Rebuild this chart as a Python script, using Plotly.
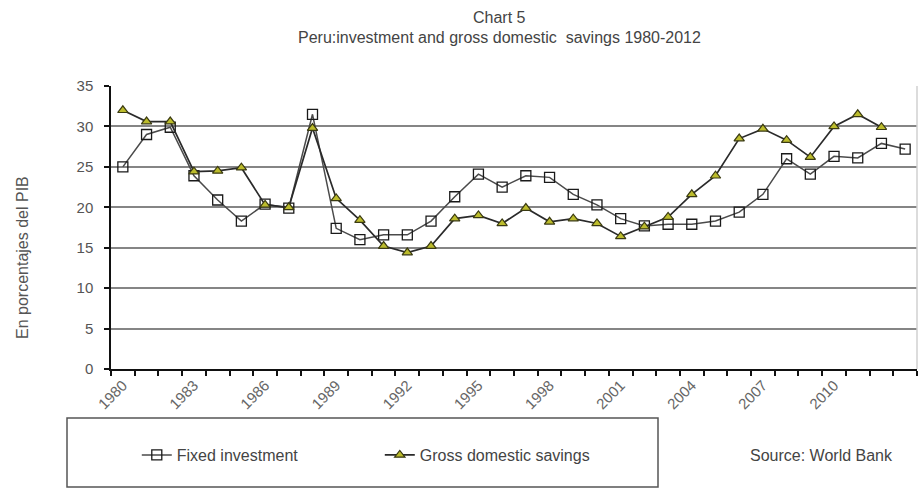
import plotly.graph_objects as go

# Years and series (percent of GDP)
years_fixed = list(range(1980, 2014))
fixed_investment = [25.0, 29.0, 29.9, 23.9, 20.9, 18.3, 20.4, 19.9, 31.5, 17.4,
                    16.0, 16.6, 16.6, 18.3, 21.3, 24.1, 22.5, 23.9, 23.7, 21.6,
                    20.3, 18.6, 17.7, 17.9, 17.9, 18.3, 19.4, 21.6, 26.0, 24.1,
                    26.3, 26.1, 27.9, 27.2]

years_savings = list(range(1980, 2013))
gross_savings = [32.0, 30.6, 30.6, 24.4, 24.5, 24.9, 20.3, 20.0, 29.8, 21.1,
                 18.4, 15.2, 14.4, 15.2, 18.6, 19.0, 18.0, 19.9, 18.2, 18.6,
                 18.0, 16.4, 17.6, 18.8, 21.6, 23.9, 28.5, 29.7, 28.3, 26.2,
                 30.0, 31.5, 29.9]

tick_years = list(range(1980, 2011, 3))
tick_text = [str(y) for y in tick_years]
y_ticks = [0, 5, 10, 15, 20, 25, 30, 35]

FONT = "Liberation Sans, Arial, sans-serif"

fig = go.Figure()

fig.add_trace(go.Scatter(
    x=years_fixed, y=fixed_investment, name="Fixed investment",
    mode="lines+markers",
    line=dict(color="#4a4a4a", width=1.5),
    marker=dict(symbol="square-open", size=10, color="#1a1a1a",
                line=dict(width=1.3, color="#1a1a1a")),
))
fig.add_trace(go.Scatter(
    x=years_savings, y=gross_savings, name="Gross domestic savings",
    mode="lines+markers",
    line=dict(color="#2a2a2a", width=1.7),
    marker=dict(symbol="triangle-up", size=9, color="#bcbc2c",
                line=dict(width=1.2, color="#3a3a12")),
))

fig.update_layout(
    width=920, height=489,
    margin=dict(l=111, r=3, t=86, b=120),
    paper_bgcolor="white", plot_bgcolor="white",
    font=dict(family=FONT, size=15, color="#444444"),
    showlegend=True,
    legend=dict(
        orientation="h", x=0.032, xanchor="left", y=-0.304, yanchor="middle",
        font=dict(size=16, color="#444444"),
        entrywidth=198, entrywidthmode="pixels",
        bgcolor="rgba(0,0,0,0)",
    ),
    xaxis=dict(
        range=[1979.5, 2013.5],
        tickmode="array", tickvals=tick_years, ticktext=tick_text,
        tickangle=-45, ticks="", showgrid=False, zeroline=False,
        showline=True, linecolor="#111111", linewidth=1.5,
        tickfont=dict(size=15, color="#666666"),
        minor=dict(tickmode="linear", tick0=1979.5, dtick=1, ticks="outside",
                   ticklen=5, tickcolor="#111111", tickwidth=1.5, showgrid=False),
    ),
    yaxis=dict(
        range=[0, 35], tickmode="array", tickvals=y_ticks,
        ticks="outside", ticklen=5, tickcolor="#111111", tickwidth=1.5,
        ticklabelstandoff=8,
        showline=True, linecolor="#111111", linewidth=1.5,
        showgrid=True, gridcolor="#858585", gridwidth=2.2, zeroline=False,
        tickfont=dict(size=15, color="#555555"),
    ),
    shapes=[
        # light right-hand border of the plotting area
        dict(type="line", xref="paper", yref="paper", x0=1, x1=1, y0=0, y1=1,
             line=dict(color="#d0d0d0", width=1.5)),
        # box around the legend
        dict(type="rect", xref="paper", yref="paper",
             x0=(67 - 111) / 806, x1=(658 - 111) / 806,
             y0=(369 - 487) / 283, y1=(369 - 418) / 283,
             line=dict(color="#555555", width=1.5), fillcolor="rgba(0,0,0,0)"),
    ],
    annotations=[
        dict(text="Chart 5", xref="paper", yref="paper",
             x=(499 - 111) / 806, y=(369 - 17) / 283, showarrow=False,
             xanchor="center", yanchor="middle",
             font=dict(size=16, color="#444444")),
        dict(text="Peru:investment and gross domestic \u00a0savings 1980-2012",
             xref="paper", yref="paper",
             x=(499 - 111) / 806, y=(369 - 38) / 283, showarrow=False,
             xanchor="center", yanchor="middle",
             font=dict(size=16, color="#444444")),
        dict(text="En porcentajes del PIB", xref="paper", yref="paper",
             x=(22 - 111) / 806, y=(369 - 258) / 283, showarrow=False,
             textangle=-90, xanchor="center", yanchor="middle",
             font=dict(size=16, color="#555555")),
        dict(text="Source: World Bank", xref="paper", yref="paper",
             x=(821 - 111) / 806, y=(369 - 455) / 283, showarrow=False,
             xanchor="center", yanchor="middle",
             font=dict(size=16, color="#444444")),
    ],
)

fig.write_html("out.html")
